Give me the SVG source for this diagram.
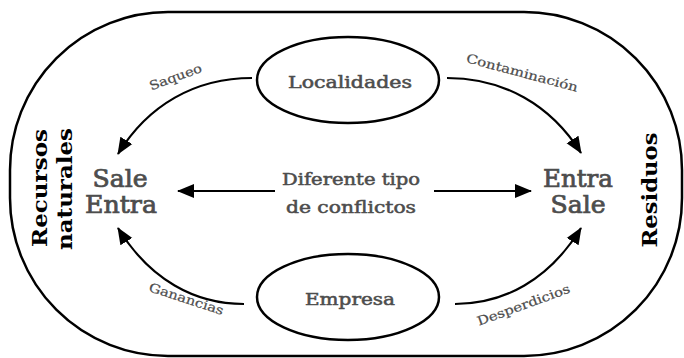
<svg xmlns="http://www.w3.org/2000/svg" width="684" height="358" viewBox="0 0 684 358">
<style>
.box{fill:none;stroke:#000;stroke-width:2.5}
.con{fill:none;stroke:#000;stroke-width:2.2}
.t{font-family:"DejaVu Serif Condensed","DejaVu Serif",serif;fill:#4d4d4d;text-anchor:middle}
.big{font-size:24px;stroke:#4d4d4d;stroke-width:0.7}
.mid{font-size:17px;stroke:#4d4d4d;stroke-width:0.5}
.lbl{font-size:12.5px;stroke:#4d4d4d;stroke-width:0.2}
.side{font-family:"DejaVu Serif Condensed","DejaVu Serif",serif;font-size:20px;font-weight:bold;fill:#000;text-anchor:middle}
</style>
<defs>
<marker id="ah" markerUnits="userSpaceOnUse" markerWidth="18" markerHeight="16" refX="16" refY="7" orient="auto" viewBox="0 0 18 14">
<path d="M0,0 L17,7 L0,14 Z" fill="#000"/>
</marker>
</defs>
<g id="outer"><rect class="box" x="10" y="12" width="672" height="344" rx="158" ry="158"/></g>
<g id="localidades"><ellipse class="box" cx="348" cy="80" rx="91" ry="43"/><text class="t mid" x="350" y="88" textLength="124" lengthAdjust="spacingAndGlyphs">Localidades</text></g>
<g id="empresa"><ellipse class="box" cx="348" cy="297" rx="91" ry="43"/><text class="t mid" x="350" y="305" textLength="90" lengthAdjust="spacingAndGlyphs">Empresa</text></g>
<g id="left"><text class="t big" x="120" y="187" textLength="55" lengthAdjust="spacingAndGlyphs">Sale</text><text class="t big" x="121" y="213" textLength="72" lengthAdjust="spacingAndGlyphs">Entra</text></g>
<g id="right"><text class="t big" x="578" y="187" textLength="70" lengthAdjust="spacingAndGlyphs">Entra</text><text class="t big" x="578" y="213" textLength="55" lengthAdjust="spacingAndGlyphs">Sale</text></g>
<g id="centro"><text class="t mid" x="351" y="185" textLength="138" lengthAdjust="spacingAndGlyphs">Diferente tipo</text><text class="t mid" x="351" y="213" textLength="130" lengthAdjust="spacingAndGlyphs">de conflictos</text></g>
<g id="recursos"><text class="side" transform="translate(47,188) rotate(-90)" textLength="118" lengthAdjust="spacingAndGlyphs">Recursos</text><text class="side" transform="translate(72,189) rotate(-90)" textLength="122" lengthAdjust="spacingAndGlyphs">naturales</text></g>
<g id="residuos"><text class="side" transform="translate(657,190) rotate(-90)" textLength="115" lengthAdjust="spacingAndGlyphs">Residuos</text></g>
<g id="connectors">
<path class="con" d="M275,191 L178,191" marker-end="url(#ah)"/>
<path class="con" d="M434,191 L531,191" marker-end="url(#ah)"/>
<path class="con" d="M252,78 C195,78 148,105 118,154" marker-end="url(#ah)"/>
<path class="con" d="M447,78 C504,78 551,105 581,153" marker-end="url(#ah)"/>
<path class="con" d="M244,304 C195,304 150,280 118,228" marker-end="url(#ah)"/>
<path class="con" d="M455,304 C504,304 549,280 581,228" marker-end="url(#ah)"/>
<text class="t lbl" transform="translate(177,81) rotate(-20)" textLength="55" lengthAdjust="spacingAndGlyphs">Saqueo</text>
<text class="t lbl" transform="translate(521,77) rotate(15)" textLength="115" lengthAdjust="spacingAndGlyphs">Contaminación</text>
<text class="t lbl" transform="translate(185,303) rotate(18)" textLength="78" lengthAdjust="spacingAndGlyphs">Ganancias</text>
<text class="t lbl" transform="translate(525,309) rotate(-20)" textLength="98" lengthAdjust="spacingAndGlyphs">Desperdicios</text>
</g>
</svg>
